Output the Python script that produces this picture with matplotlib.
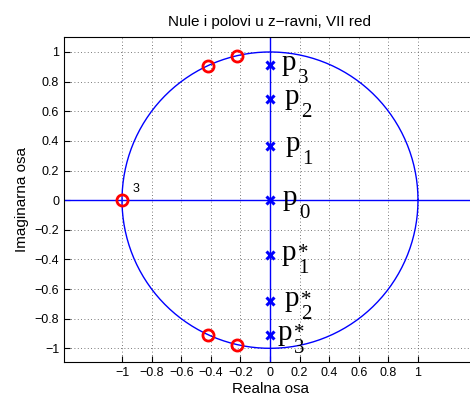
import matplotlib
matplotlib.use("Agg")
import matplotlib.pyplot as plt
import numpy as np

plt.rcParams["font.family"] = ["Liberation Sans", "DejaVu Sans"]

# zeros on the unit circle (upper / lower half), triple zero at -1
zero_re = [-1.0, -0.421, -0.225, -0.421, -0.225]
zero_im = [0.0, 0.907, 0.975, -0.907, -0.975]
zero_mult_label = "3"

# poles on the imaginary axis
pole_re = [0, 0, 0, 0, 0, 0, 0]
pole_im = [0.912, 0.682, 0.365, 0.0, -0.367, -0.682, -0.908]
pole_sub = ["3", "2", "1", "0", "1", "2", "3"]
pole_conj = [False, False, False, False, True, True, True]
# horizontal start of each label, px right of the marker
label_dx = [12, 15, 16, 13, 12, 15, 8]

ticks = np.round(np.arange(-1, 1.01, 0.2), 1)
tick_labels = ["\u22121", "\u22120.8", "\u22120.6", "\u22120.4", "\u22120.2",
               "0", "0.2", "0.4", "0.6", "0.8", "1"]

fig = plt.figure(figsize=(4.70, 4.00), dpi=100)
ax = fig.add_axes([64 / 470, 0.094, 412 / 470, 0.8135])

xlim = (-1.392, 1.392)
ylim = (-1.095, 1.101)

theta = np.linspace(0, 2 * np.pi, 400)
ax.plot(np.cos(theta), np.sin(theta), color="blue", lw=1)
ax.plot(xlim, [0, 0], color="blue", lw=1)
ax.plot([0, 0], ylim, color="blue", lw=1)

ax.plot(zero_re, zero_im, "o", mfc="none", mec="red", ms=8, mew=2)
ax.plot(pole_re, pole_im, "x", color="blue", ms=6, mew=2.2)

ax.text(zero_re[0] + 0.07, zero_im[0] + 0.035, zero_mult_label, fontsize=9,
        va="bottom", ha="left")

px = 0.72  # px -> pt at 100 dpi
serif = "Liberation Serif"
for x, y, sub, conj, dx in zip(pole_re, pole_im, pole_sub, pole_conj, label_dx):
    ax.annotate("p", (x, y), xytext=(dx * px, -5 * px), textcoords="offset points",
                fontsize=21, family=serif, va="baseline", ha="left")
    # subscript (and conjugate star above it) as one text block
    s = "*\n" + sub if conj else sub
    ax.annotate(s, (x, y), xytext=((dx + 16) * px, -23 * px), textcoords="offset points",
                fontsize=15, family=serif, va="bottom", ha="left",
                linespacing=0.66, multialignment="center")

ax.set_xlim(*xlim)
ax.set_ylim(*ylim)
ax.set_xticks(ticks)
ax.set_xticklabels(tick_labels)
ax.set_yticks(ticks)
ax.set_yticklabels(tick_labels)
ax.tick_params(direction="in", labelsize=9, length=4)
ax.grid(True, linestyle=(0, (1, 3)), color="0.3", lw=0.6)

ax.set_title("Nule i polovi u z\u2212ravni, VII red", fontsize=11, pad=8)
ax.set_xlabel("Realna osa", fontsize=11, labelpad=2)
ax.set_ylabel("Imaginarna osa", fontsize=11, labelpad=4)

fig.savefig("out.png", dpi=100)
